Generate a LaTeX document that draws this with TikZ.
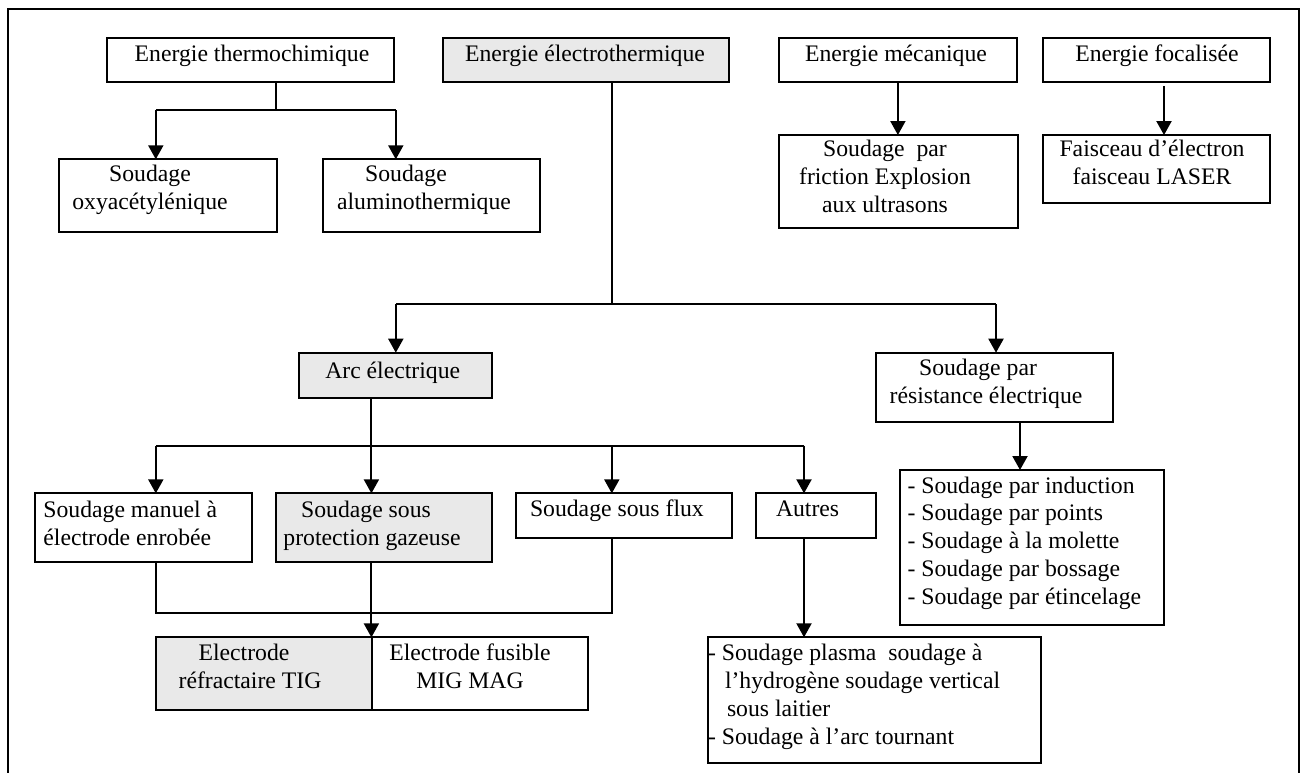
\documentclass[tikz,border=0pt]{standalone}
\usepackage{fontspec}
\setmainfont{Liberation Serif}
\usetikzlibrary{arrows.meta}
\definecolor{boxgray}{RGB}{233,233,233}
\begin{document}
\begin{tikzpicture}[x=1pt,y=-1pt,
  every node/.style={font=\fontsize{23.7}{27.7}\selectfont},
  box/.style={draw, line width=2pt, inner sep=0pt, outer sep=0pt, anchor=center},
  graybox/.style={box, fill=boxgray},
  txt/.style={inner sep=0pt, outer sep=0pt, anchor=base, align=center},
  ltxt/.style={inner sep=0pt, outer sep=0pt, anchor=base west, align=left},
  line/.style={draw, line width=2pt},
  arr/.style={line, -{Triangle[width=15pt,length=14pt]}},
  frame/.style={draw, line width=2pt}]
\useasboundingbox (0,0) rectangle (1312,772);
\draw[frame] (7.6,775) -- (7.6,9.3) -- (1299,9.3) -- (1299,775);

% boxes
\node[box, minimum width=286.3pt, minimum height=44pt] (thermo) at (250.5,59.7) {};
\node[graybox, minimum width=286pt, minimum height=44.6pt] (electro) at (586.3,60) {};
\node[box, minimum width=238.3pt, minimum height=44pt] (meca) at (897.9,59.7) {};
\node[box, minimum width=226.3pt, minimum height=44pt] (focal) at (1156.6,59.7) {};
\node[box, minimum width=217.7pt, minimum height=72.4pt] (oxy) at (167.9,195.5) {};
\node[box, minimum width=217pt, minimum height=72.4pt] (alu) at (431.5,195.5) {};
\node[box, minimum width=239pt, minimum height=93pt] (fric) at (898.5,181.5) {};
\node[box, minimum width=226.3pt, minimum height=68.3pt] (faisc) at (1156.6,169.2) {};
\node[graybox, minimum width=192.4pt, minimum height=45pt] (arc) at (395.6,375.2) {};
\node[box, minimum width=237.2pt, minimum height=69pt] (resist) at (994.4,387.2) {};
\node[box, minimum width=216.8pt, minimum height=68.7pt] (manuel) at (143.4,527.7) {};
\node[graybox, minimum width=216pt, minimum height=68.7pt] (gaz) at (383.8,527.7) {};
\node[box, minimum width=216.1pt, minimum height=44.7pt] (flux) at (624.3,515.7) {};
\node[box, minimum width=120.3pt, minimum height=44.7pt] (autres) at (815.7,515.7) {};
\node[box, minimum width=264pt, minimum height=155pt] (liste) at (1032,547.5) {};
\node[graybox, minimum width=216.2pt, minimum height=72.7pt] (eleL) at (263.6,673.7) {};
\node[box, minimum width=216.3pt, minimum height=72.7pt] (eleR) at (479.9,673.7) {};
\node[box, minimum width=332.7pt, minimum height=125.4pt] (plasma) at (874.2,700) {};

% texts (anchor = baseline of the last line)
\node[txt] (tthermo) at (252,61.5) {Energie thermochimique};
\node[txt] (telectro) at (585,61.5) {Energie électrothermique};
\node[txt] (tmeca) at (896,61) {Energie mécanique};
\node[txt] (tfocal) at (1157,61) {Energie focalisée};
\node[txt] (toxy) at (150,209) {Soudage\\oxyacétylénique};
\node[txt] (talu) at (424,209) {Soudage\hspace*{36pt}\\aluminothermique};
\node[txt] (tfric) at (885,212) {Soudage\ \ par\\friction Explosion\\aux ultrasons};
\node[txt] (tfaisc) at (1152,184.5) {Faisceau d’électron\\faisceau LASER};
\node[txt] (tarc) at (392.7,378) {Arc électrique};
\node[txt] (tresist) at (986,403) {Soudage par\hspace*{16pt}\\résistance électrique};
\node[ltxt] (tmanuel) at (43.4,545) {Soudage manuel à\\électrode enrobée};
\node[txt] (tgaz) at (372,545) {Soudage sous\hspace*{12pt}\\protection gazeuse};
\node[ltxt] (tflux) at (530,516.7) {Soudage sous flux};
\node[ltxt] (tautres) at (776,516.7) {Autres};
\node[ltxt] (tliste) at (907.5,604) {- Soudage par induction\\- Soudage par points\\- Soudage à la molette\\- Soudage par bossage\\- Soudage par étincelage};
\node[txt] (teleL) at (250,688) {Electrode\hspace*{12pt}\\réfractaire TIG};
\node[txt] (teleR) at (470,688) {Electrode fusible\\MIG MAG};
\node[ltxt] (tplasma) at (708,744) {- Soudage plasma\ \ soudage à\\\hspace*{17pt}l’hydrogène soudage vertical\\\hspace*{19pt}sous laitier\\- Soudage à l’arc tournant};

% junction coordinates
\coordinate (tj) at (276,110);
\coordinate (tl) at (155.8,110);
\coordinate (tr) at (395.8,110);
\coordinate (ej) at (611.8,304);
\coordinate (el) at (395.8,304);
\coordinate (er) at (996,304);
\coordinate (fx) at (1164,86);
\coordinate (aj) at (371.4,445.7);
\coordinate (a1) at (155.8,445.7);
\coordinate (a3) at (611.8,445.7);
\coordinate (a4) at (804,445.7);
\coordinate (rx) at (1020,422);
\coordinate (b1) at (155.8,613.3);
\coordinate (b3) at (611.8,613.3);

% connectors
\draw[line] (tj |- thermo.south) -- (tj);
\draw[line] (tl) -- (tr);
\draw[arr] (tl) -- (tl |- oxy.north);
\draw[arr] (tr) -- (tr |- alu.north);

\draw[line] (ej |- electro.south) -- (ej);
\draw[line] (el) -- (er);
\draw[arr] (el) -- (el |- arc.north);
\draw[arr] (er) -- (er |- resist.north);

\draw[arr] (meca.south) -- (meca.south |- fric.north);
\draw[arr] (fx) -- (fx |- faisc.north);

\draw[line] (aj |- arc.south) -- (aj);
\draw[line] (a1) -- (a4);
\draw[arr] (a1) -- (a1 |- manuel.north);
\draw[arr] (aj) -- (aj |- gaz.north);
\draw[arr] (a3) -- (a3 |- flux.north);
\draw[arr] (a4) -- (a4 |- autres.north);

\draw[arr] (rx |- resist.south) -- (rx |- liste.north);

\draw[line] (b1 |- manuel.south) -- (b1) -- (b3) -- (b3 |- flux.south);
\draw[arr] (aj |- gaz.south) -- (aj |- eleL.north);
\draw[arr] (a4 |- autres.south) -- (a4 |- plasma.north);
\end{tikzpicture}
\end{document}
